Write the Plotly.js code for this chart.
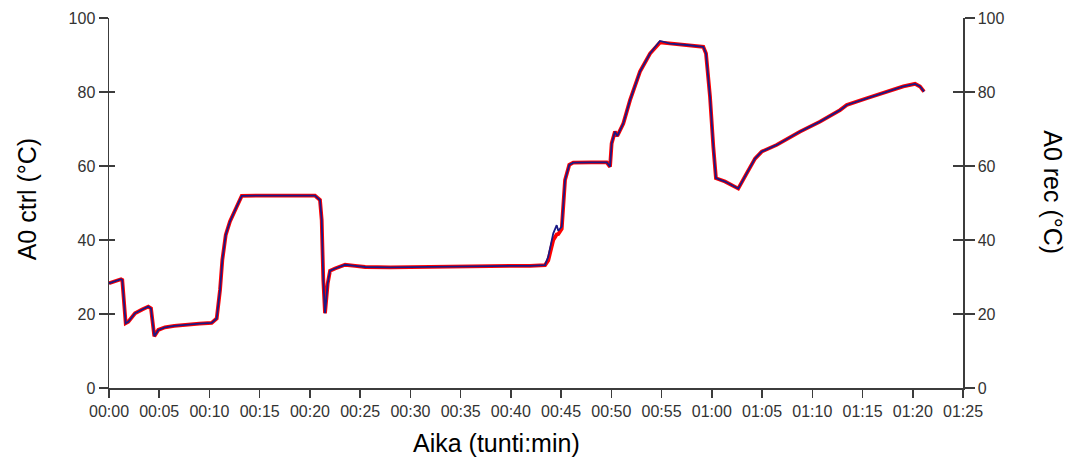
<!DOCTYPE html>
<html>
<head>
<meta charset="utf-8">
<script src="https://cdn.plot.ly/plotly-3.0.1.min.js"></script>
<style>html,body{margin:0;padding:0;background:#fff}#chart{width:1069px;height:462px}</style>
</head>
<body>
<div id="chart"></div>
<script>
// time in minutes
const timeMin = [0, 0.6, 1.19, 1.32, 1.5, 1.66, 1.92, 2.59, 3.3, 3.91, 4.18, 4.35, 4.51, 4.91, 5.57, 6.5, 7.89, 9.0, 10.22, 10.72,
  11.05, 11.28, 11.62, 12.04, 12.71, 13.21, 15, 17, 19, 20.5, 21.0, 21.17, 21.33, 21.5, 21.77, 22.0, 22.5, 23.5, 24.5, 25.5,
  28, 32, 36, 40, 41.9, 43.4, 43.72, 44.22, 44.56, 44.72, 45.06, 45.39, 45.81, 46.21, 48, 49.54, 49.87, 50.03, 50.36, 50.59,
  51.19, 51.86, 52.85, 53.85, 54.84, 55.84, 57.5, 59.15, 59.42, 59.82, 60.15, 60.41, 61.31, 62.63, 63.47, 64.30, 64.97, 66.46, 68.78, 70.77,
  72.76, 73.43, 75.42, 77.41, 79.06, 80.23, 80.72, 81.12];
const a0Ctrl = [28.3, 28.8, 29.4, 29.2, 23, 17.5, 17.9, 20.2, 21.2, 22.0, 21.5, 17, 14.0, 15.7, 16.4, 16.8, 17.2, 17.4, 17.6, 18.8,
  26.5, 34.6, 41.4, 45, 49, 51.9, 52, 52, 52, 52, 50.8, 45.4, 29.2, 20.2, 28.3, 31.7, 32.3, 33.3, 33.0, 32.7,
  32.6, 32.8, 32.9, 33.0, 33.0, 33.2, 35.5, 41.8, 44, 42.5, 43.6, 56.2, 60.3, 60.9, 61.0, 61.0, 59.8, 66.1, 69.3, 68.1,
  71.5, 77.8, 85.5, 90.4, 93.8, 93.1, 92.7, 92.2, 90.4, 78.7, 65.2, 56.7, 55.8, 53.9, 58, 62, 63.9, 65.7, 69.3, 72,
  75.1, 76.5, 78.3, 80.1, 81.5, 82.2, 81.5, 80.1];
const a0Rec = [28.3, 28.8, 29.4, 29.2, 23, 17.5, 17.9, 20.2, 21.2, 22.0, 21.5, 17, 14.0, 15.7, 16.4, 16.8, 17.2, 17.4, 17.6, 18.8,
  26.5, 34.6, 41.4, 45, 49, 51.9, 52, 52, 52, 52, 50.8, 45.4, 29.2, 20.2, 28.3, 31.7, 32.3, 33.3, 33.0, 32.7,
  32.6, 32.8, 32.9, 33.0, 33.0, 33.2, 34.5, 40, 41.5, 41.6, 43, 56.2, 60.3, 60.9, 61.0, 61.0, 59.8, 66.1, 69.3, 68.1,
  71.5, 77.8, 85.5, 90.4, 93.4, 93.1, 92.7, 92.2, 90.4, 78.7, 65.2, 56.7, 55.8, 53.9, 58, 62, 63.9, 65.7, 69.3, 72,
  75.1, 76.5, 78.3, 80.1, 81.5, 82.2, 81.5, 80.1];
const xTickVals = [0, 5, 10, 15, 20, 25, 30, 35, 40, 45, 50, 55, 60, 65, 70, 75, 80, 85];
const xTickText = ['00:00','00:05','00:10','00:15','00:20','00:25','00:30','00:35','00:40','00:45','00:50','00:55','01:00','01:05','01:10','01:15','01:20','01:25'];
const yTickVals = [0, 20, 40, 60, 80, 100];
const titles = {x: 'Aika (tunti:min)', yLeft: 'A0 ctrl (°C)', yRight: 'A0 rec (°C)'};

const axisColor = '#3c3c3c';
const tickFont = {family: 'Liberation Sans, Arial, sans-serif', size: 16, color: '#333'};
const titleFont = {family: 'Liberation Sans, Arial, sans-serif', size: 25, color: '#000'};

const data = [
  {x: timeMin, y: a0Rec, name: 'A0 rec', type: 'scatter', mode: 'lines', yaxis: 'y',
   line: {color: '#ff0000', width: 3.8}},
  {x: timeMin, y: a0Ctrl, name: 'A0 ctrl', type: 'scatter', mode: 'lines', yaxis: 'y2',
   line: {color: '#1a1a86', width: 1.8}},
  {x: [], y: [], yaxis: 'y3', showlegend: false, hoverinfo: 'skip'},
  {x: [], y: [], yaxis: 'y4', showlegend: false, hoverinfo: 'skip'}
];

const yBase = {range: [0, 100], tickvals: yTickVals, showgrid: false, zeroline: false, fixedrange: true};

const layout = {
  width: 1069, height: 462,
  margin: {l: 109, r: 106, t: 18, b: 74},
  paper_bgcolor: '#fff', plot_bgcolor: '#fff',
  showlegend: false,
  xaxis: {range: [0, 85], tickvals: xTickVals, ticktext: xTickText, showgrid: false, zeroline: false,
    showline: true, linecolor: axisColor, linewidth: 1.5, ticks: 'outside', ticklen: 8, tickwidth: 1.5,
    tickcolor: axisColor, tickfont: tickFont},
  yaxis: Object.assign({}, yBase, {side: 'right', showline: true, linecolor: axisColor, linewidth: 1.5,
    ticks: 'outside', ticklen: 10, tickwidth: 1.5, tickcolor: axisColor, tickfont: tickFont}),
  yaxis2: Object.assign({}, yBase, {side: 'left', overlaying: 'y', showline: true, linecolor: axisColor, linewidth: 1.5,
    ticks: 'outside', ticklen: 9, tickwidth: 1.5, tickcolor: axisColor, tickfont: tickFont}),
  yaxis3: Object.assign({}, yBase, {side: 'left', overlaying: 'y', showline: false, showticklabels: false,
    ticks: 'inside', ticklen: 6, tickwidth: 1.5, tickcolor: axisColor}),
  yaxis4: Object.assign({}, yBase, {side: 'right', overlaying: 'y', showline: false, showticklabels: false,
    ticks: 'inside', ticklen: 10, tickwidth: 1.5, tickcolor: axisColor}),
  annotations: [
    {text: titles.x, xref: 'paper', yref: 'paper', x: 0.454, y: -0.149, xanchor: 'center', yanchor: 'middle',
     showarrow: false, font: titleFont},
    {text: titles.yLeft, xref: 'paper', yref: 'paper', x: -0.096, y: 0.51, xanchor: 'center', yanchor: 'middle',
     textangle: -90, showarrow: false, font: titleFont},
    {text: titles.yRight, xref: 'paper', yref: 'paper', x: 1.105, y: 0.53, xanchor: 'center', yanchor: 'middle',
     textangle: 90, showarrow: false, font: titleFont}
  ]
};

Plotly.newPlot('chart', data, layout, {staticPlot: true, displayModeBar: false});
</script>
</body>
</html>
